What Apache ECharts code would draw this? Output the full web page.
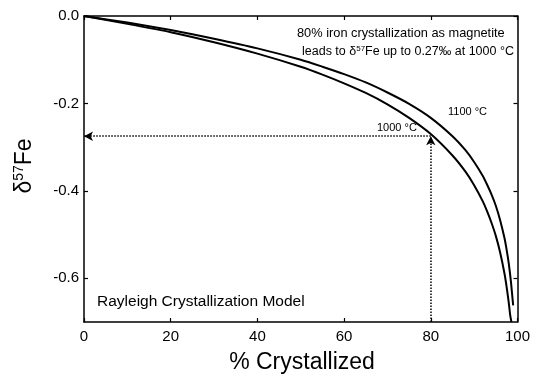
<!DOCTYPE html>
<html>
<head>
<meta charset="utf-8">
<script src="https://cdn.jsdelivr.net/npm/echarts@6/dist/echarts.min.js"></script>
<style>
html,body{margin:0;padding:0;background:#fff;}
#c{width:533px;height:376px;}
</style>
</head>
<body>
<div id="c"></div>
<script>
// Data
const x1000 = [0, 10, 20, 30, 40, 50, 55, 60, 65, 70, 75, 80, 85, 88, 90, 92, 93, 94, 95, 96, 97, 97.5, 98, 98.3, 98.6];
const d1000 = [0, -0.018, -0.037, -0.060, -0.086, -0.116, -0.134, -0.154, -0.176, -0.202, -0.233, -0.270, -0.319, -0.356, -0.387, -0.424, -0.447, -0.473, -0.503, -0.541, -0.589, -0.620, -0.657, -0.683, -0.700];
const x1100 = [0, 10, 20, 30, 40, 50, 55, 60, 65, 70, 75, 80, 85, 88, 90, 92, 93, 94, 95, 96, 97, 97.5, 98, 98.5, 99];
const d1100 = [0, -0.015, -0.032, -0.052, -0.074, -0.100, -0.116, -0.133, -0.152, -0.175, -0.201, -0.233, -0.275, -0.307, -0.334, -0.366, -0.386, -0.408, -0.434, -0.467, -0.508, -0.535, -0.567, -0.609, -0.662];
const yTicks = [0, -0.2, -0.4, -0.6];
const arrowX = 80;
const arrowY = -0.275;

const FONT = 'Liberation Sans, Arial, Helvetica, sans-serif';
const chart = echarts.init(document.getElementById('c'), null, {renderer: 'canvas'});

function zip(a, b) { return a.map((v, i) => [v, b[i]]); }

const axisLine = {show: true, onZero: false, lineStyle: {color: '#000', width: 1.5}};
const tick = (extra) => Object.assign({show: true, inside: true, length: 4, lineStyle: {color: '#000', width: 1.2}}, extra || {});
const option = {
  animation: false,
  backgroundColor: '#fff',
  grid: {left: 84, right: 12, top: 16, bottom: 54},
  xAxis: [{
    type: 'value', min: 0, max: 100, interval: 20, position: 'bottom',
    axisLine: axisLine,
    axisTick: tick(),
    axisLabel: {show: true, inside: false, color: '#000', fontSize: 15, fontFamily: FONT, margin: 7},
    splitLine: {show: false}
  }, {
    type: 'value', min: 0, max: 100, interval: 20, position: 'top',
    axisLine: axisLine,
    axisTick: tick(),
    axisLabel: {show: false}, splitLine: {show: false}
  }],
  yAxis: [{
    type: 'value', min: -0.7, max: 0, position: 'left',
    axisLine: axisLine,
    axisTick: tick({customValues: yTicks}),
    axisLabel: {show: true, inside: false, color: '#000', fontSize: 15, fontFamily: FONT, margin: 5, customValues: yTicks,
      formatter: v => (Math.abs(v) < 1e-9 ? '0.0' : v.toFixed(1))},
    splitLine: {show: false}
  }, {
    type: 'value', min: -0.7, max: 0, position: 'right',
    axisLine: axisLine,
    axisTick: tick({customValues: yTicks}),
    axisLabel: {show: false}, splitLine: {show: false}
  }],
  series: [{
    type: 'line', name: '1000 °C', data: zip(x1000, d1000),
    showSymbol: false, smooth: 0.2,
    lineStyle: {color: '#000', width: 2}, clip: true,
    markLine: {
      silent: true, symbol: ['none', 'arrow'], symbolSize: [7, 9],
      label: {show: false},
      lineStyle: {color: '#000', type: 'dotted', width: 1.5},
      data: [
        [{coord: [arrowX, arrowY]}, {coord: [0, arrowY]}],
        [{coord: [arrowX, -0.7]}, {coord: [arrowX, arrowY]}]
      ]
    }
  }, {
    type: 'line', name: '1100 °C', data: zip(x1100, d1100),
    showSymbol: false, smooth: 0.2,
    lineStyle: {color: '#000', width: 2}, clip: true
  }],
  graphic: [
    {type: 'text', x: 25, y: 166, rotation: Math.PI / 2,
      style: {text: '{d|δ}{s|57}{d|Fe}', align: 'center', verticalAlign: 'middle', fill: '#000',
        rich: {d: {fontSize: 23, fontFamily: FONT, fill: '#000'},
               s: {fontSize: 14, fontFamily: FONT, fill: '#000', verticalAlign: 'top', lineHeight: 26}}}},
    {type: 'text', x: 302, y: 363,
      style: {text: '% Crystallized', align: 'center', verticalAlign: 'middle', fontSize: 23, fontFamily: FONT, fill: '#000'}},
    {type: 'text', x: 97, y: 302,
      style: {text: 'Rayleigh Crystallization Model', align: 'left', verticalAlign: 'middle', fontSize: 15.5, fontFamily: FONT, fill: '#000'}},
    {type: 'text', x: 297, y: 33,
      style: {text: '80% iron crystallization as magnetite', align: 'left', verticalAlign: 'middle', fontSize: 12.8, fontFamily: FONT, fill: '#000'}},
    {type: 'text', x: 302, y: 52,
      style: {text: '{t|leads to δ}{s|57}{t|Fe up to 0.27‰ at 1000 °C}', align: 'left', verticalAlign: 'middle', fill: '#000',
        rich: {t: {fontSize: 12.5, fontFamily: FONT, fill: '#000'},
               s: {fontSize: 8, fontFamily: FONT, fill: '#000', verticalAlign: 'top', lineHeight: 14}}}},
    {type: 'text', x: 377, y: 128,
      style: {text: '1000 °C', align: 'left', verticalAlign: 'middle', fontSize: 11, fontFamily: FONT, fill: '#000'}},
    {type: 'text', x: 448, y: 112,
      style: {text: '1100 °C', align: 'left', verticalAlign: 'middle', fontSize: 11, fontFamily: FONT, fill: '#000'}}
  ]
};
chart.setOption(option);
</script>
</body>
</html>
